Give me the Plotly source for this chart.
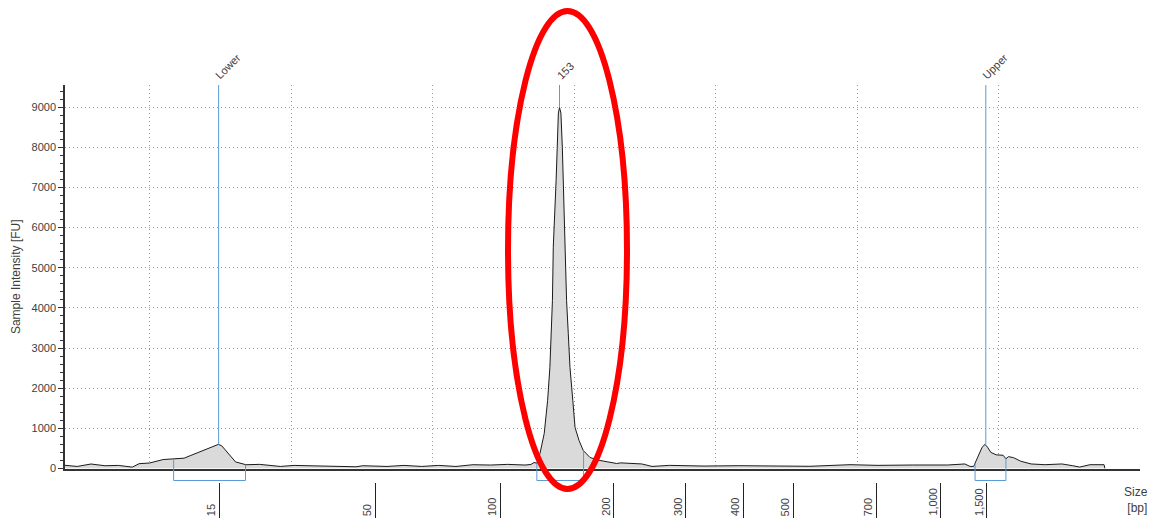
import numpy as np
import plotly.graph_objects as go

# ---- data (migration time in s, intensity in FU) ----
time_s = [42.00, 42.04, 42.43, 42.92, 43.41, 43.89, 44.38, 44.62, 44.99, 45.47,
          45.84, 46.21, 46.45, 46.93, 47.18, 47.42, 47.54, 47.79, 48.03, 48.40,
          48.88, 49.61, 50.10, 50.59, 51.56, 52.29, 52.53, 53.38, 53.98, 54.61,
          55.21, 55.82, 56.42, 57.04, 57.65, 58.26, 58.47, 58.58, 58.68, 58.79,
          58.94, 59.06, 59.14, 59.18, 59.23, 59.26, 59.32, 59.36, 59.40, 59.44,
          59.48, 59.53, 59.58, 59.61, 59.65, 59.68, 59.73, 59.79, 59.85, 59.95,
          60.03, 60.17, 60.32, 60.56, 60.91, 61.50, 61.65, 62.39, 62.75, 63.37,
          63.99, 64.59, 65.82, 67.05, 68.33, 69.75, 70.74, 71.97, 73.20, 73.81,
          73.99, 74.12, 74.30, 74.42, 74.52, 74.61, 74.73, 74.92, 75.16, 75.26,
          75.35, 75.53, 75.78, 76.15, 76.64, 77.24, 77.62, 77.87, 78.23, 78.73,
          78.76]
intensity_fu = [80, 77, 51, 112, 69, 77, 34, 120, 137, 223,
                240, 257, 326, 463, 515, 600, 566, 352, 163, 94,
                103, 51, 77, 69, 51, 43, 69, 51, 77, 51,
                77, 51, 94, 86, 103, 86, 100, 150, 130, 374,
                873, 1695, 2518, 3366, 4188, 5510, 6357, 7180, 8003, 8850,
                8990, 8850, 8003, 7180, 6357, 5510, 4188, 3366, 2518, 1695,
                1022, 698, 449, 274, 200, 125, 140, 113, 52, 78,
                70, 61, 70, 70, 55, 95, 78, 87, 87, 113,
                52, 52, 355, 530, 600, 530, 400, 340, 330, 243,
                295, 270, 182, 113, 95, 113, 70, 35, 95, 95,
                0]

ladder_bp = ["15", "50", "100", "200", "300", "400", "500", "700", "1,000", "1,500"]
ladder_time = [47.45, 52.97, 57.38, 61.40, 63.95, 65.97, 67.75, 70.68, 72.95, 74.59]

peak_labels = ["Lower", "153", "Upper"]
peak_time = [47.43, 59.48, 74.55]
bracket_start = [45.84, 58.68, 74.17]
bracket_end = [48.38, 60.33, 75.26]

Y_MAX = 9550
X_RANGE = [42, 80]

# ---- layout geometry (screen pixels; page body adds an 8px offset) ----
OFF = 8
SCR_W, SCR_H = 1159, 518
W, H = SCR_W - OFF, SCR_H - OFF
PLOT_LEFT, PLOT_RIGHT, PLOT_TOP, PLOT_BOTTOM = 65, 1140, 85, 482   # screen px
AXIS_Y = 468.5                                                       # screen px of y=0
M_L = PLOT_LEFT - OFF
M_T = PLOT_TOP - OFF
M_R = SCR_W - PLOT_RIGHT
M_B = SCR_H - PLOT_BOTTOM
PLOT_H = PLOT_BOTTOM - PLOT_TOP
PW = PLOT_RIGHT - PLOT_LEFT
Y_DOM0 = (PLOT_BOTTOM - AXIS_Y) / PLOT_H
BLUE = "#5b9bd5"
TXT = "#404040"
FONT = "Liberation Sans"
GRID_DASH = "1px,3px"


def fu_to_paper(v):
    return Y_DOM0 + (1 - Y_DOM0) * v / Y_MAX


def scr_y(py):
    """screen pixel y -> paper y"""
    return (PLOT_BOTTOM - py) / PLOT_H


def scr_x(px):
    return (px - PLOT_LEFT) / PW


fig = go.Figure()
fig.add_trace(go.Scatter(
    x=time_s, y=intensity_fu, mode="lines",
    line=dict(color="#1a1a1a", width=1),
    fill="tozeroy", fillcolor="#dadada", hoverinfo="skip", showlegend=False))
fig.add_trace(go.Scatter(
    x=ladder_time, y=[0] * len(ladder_time), xaxis="x2", mode="markers",
    marker=dict(opacity=0), hoverinfo="skip", showlegend=False))

shapes = []
annotations = []

# integration brackets
bracket_bottom = scr_y(AXIS_Y + 12)
for a, b in zip(bracket_start, bracket_end):
    va = float(np.interp(a, time_s, intensity_fu))
    vb = float(np.interp(b, time_s, intensity_fu))
    path = (f"M {a},{fu_to_paper(va)} L {a},{bracket_bottom} "
            f"L {b},{bracket_bottom} L {b},{fu_to_paper(vb)}")
    shapes.append(dict(type="path", xref="x", yref="paper", path=path,
                       line=dict(color=BLUE, width=1)))

# peak markers
for lab, t in zip(peak_labels, peak_time):
    v = float(np.interp(t, time_s, intensity_fu))
    shapes.append(dict(type="line", xref="x", yref="y", x0=t, x1=t, y0=v, y1=Y_MAX,
                       line=dict(color=BLUE, width=1)))
    annotations.append(dict(x=t, y=1, xref="x", yref="paper", text=lab,
                            textangle=-45, showarrow=False, xanchor="left",
                            yanchor="bottom", xshift=-8, yshift=1,
                            font=dict(family=FONT, size=11, color=TXT)))

# ladder size labels
for lab, t in zip(ladder_bp, ladder_time):
    annotations.append(dict(x=t, y=scr_y(517), xref="x", yref="paper", text=lab,
                            textangle=-90, showarrow=False, xanchor="center",
                            yanchor="bottom", xshift=-8, borderpad=0,
                            font=dict(family=FONT, size=11, color=TXT)))

annotations.append(dict(x=scr_x(1150), y=scr_y(500), xref="paper",
                        yref="paper", text="Size<br>[bp]", showarrow=False,
                        xanchor="right", yanchor="middle", align="right",
                        font=dict(family=FONT, size=12, color=TXT)))

# red highlight ellipse around the main peak
shapes.append(dict(type="circle", xref="paper", yref="paper",
                   x0=scr_x(508), x1=scr_x(627),
                   y0=scr_y(489), y1=scr_y(11),
                   line=dict(color="#ff0000", width=6)))

fig.update_layout(
    width=W, height=H,
    margin=dict(l=M_L, r=M_R, t=M_T, b=M_B, autoexpand=False),
    paper_bgcolor="white", plot_bgcolor="white",
    font=dict(family=FONT, size=11, color=TXT),
    shapes=shapes, annotations=annotations,
    xaxis=dict(range=X_RANGE, domain=[0, 1], anchor="y", showline=True,
               linecolor="#333333", linewidth=1.5, ticks="", showticklabels=False,
               showgrid=True, tick0=40, dtick=5, gridcolor="#9a9a9a",
               griddash=GRID_DASH, gridwidth=1, zeroline=False, automargin=False),
    xaxis2=dict(range=X_RANGE, overlaying="x", anchor="free", position=0,
                tickmode="array", tickvals=ladder_time, ticks="outside",
                ticklen=45, tickcolor="#222222", tickwidth=1,
                showticklabels=False, showgrid=False, showline=False,
                zeroline=False, automargin=False),
    yaxis=dict(range=[0, Y_MAX], domain=[Y_DOM0, 1], showline=True,
               linecolor="#333333", linewidth=1.5, ticks="outside", ticklen=5,
               tickcolor="#333333", tick0=0, dtick=1000, showgrid=True,
               gridcolor="#9a9a9a", griddash=GRID_DASH, gridwidth=1, zeroline=False,
               minor=dict(dtick=200, ticks="outside", ticklen=3,
                          tickcolor="#333333", showgrid=False),
               tickfont=dict(family=FONT, size=11, color=TXT), automargin=False,
               title=dict(text="Sample Intensity [FU]", standoff=8,
                          font=dict(family=FONT, size=12, color=TXT))),
)

fig.write_html("out.html")
